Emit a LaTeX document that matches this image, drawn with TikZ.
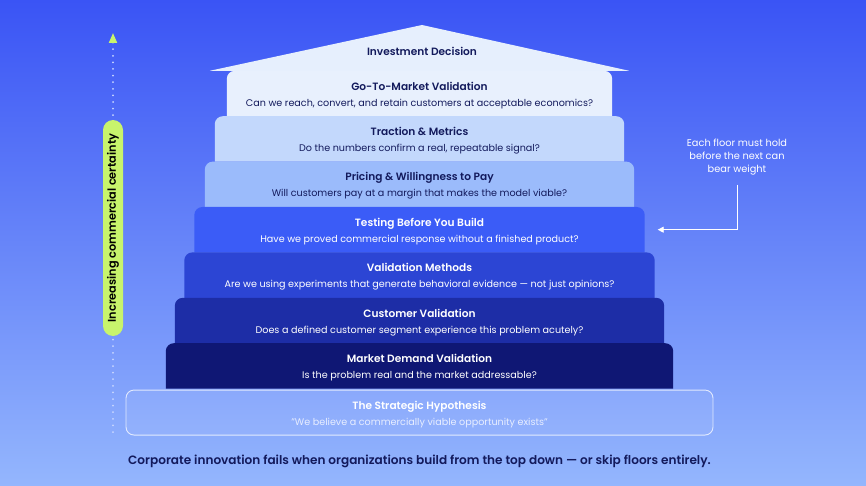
\documentclass[tikz,border=0pt]{standalone}
\usepackage{fontspec}
\setmainfont{Poppins}[BoldFont={Poppins SemiBold}]
\usepackage{tikz}
\usetikzlibrary{positioning,arrows.meta,backgrounds}

\definecolor{bgtop}{HTML}{3A54F5}
\definecolor{bgbottom}{HTML}{94B6FD}
\definecolor{navy}{HTML}{131A5C}
\definecolor{roof}{HTML}{E6EFFD}
\definecolor{floorA}{HTML}{E8F0FD}
\definecolor{floorB}{HTML}{C3D8FC}
\definecolor{floorC}{HTML}{9BBBFB}
\definecolor{floorD}{HTML}{3B5CF7}
\definecolor{floorE}{HTML}{2C45D4}
\definecolor{floorF}{HTML}{1D2DA6}
\definecolor{floorG}{HTML}{0F1774}
\definecolor{lime}{HTML}{C8F46C}
\definecolor{dotcol}{HTML}{C9D7FF}
\definecolor{hypq}{HTML}{E8EEFF}

\newcommand{\floortext}[2]{{\bfseries\fontsize{10.6}{16}\selectfont\rule{0pt}{11.8pt}#1}\\#2}

\begin{document}
\begin{tikzpicture}[x=1pt,y=-1pt,node distance=0pt,
    floor/.style={minimum height=45pt,inner sep=0pt,align=center,
                  font=\fontsize{9.6}{16}\selectfont},
    darkfloor/.style={floor,text=navy},
    lightfloor/.style={floor,text=white}]
  \useasboundingbox (0,0) rectangle (866,486);

  \node (decision) at (422,51) {\bfseries\fontsize{10.6}{14}\selectfont\color{navy}Investment Decision};
  \node[darkfloor,minimum width=385pt] (gtm) at (419.5,93.5)
    {\floortext{Go-To-Market Validation}{Can we reach, convert, and retain customers at acceptable economics?}};
  \node[darkfloor,minimum width=409pt,below=of gtm] (traction)
    {\floortext{Traction \& Metrics}{Do the numbers confirm a real, repeatable signal?}};
  \node[darkfloor,minimum width=429pt,below=of traction] (pricing)
    {\floortext{Pricing \& Willingness to Pay}{Will customers pay at a margin that makes the model viable?}};
  \node[lightfloor,minimum width=450pt,below=of pricing] (testing)
    {\floortext{Testing Before You Build}{Have we proved commercial response without a finished product?}};
  \node[lightfloor,minimum width=470pt,below=of testing] (methods)
    {\floortext{Validation Methods}{Are we using experiments that generate behavioral evidence — not just opinions?}};
  \node[lightfloor,minimum width=489pt,below=of methods] (customer)
    {\floortext{Customer Validation}{Does a defined customer segment experience this problem acutely?}};
  \node[lightfloor,minimum width=507pt,below=of customer] (demand)
    {\floortext{Market Demand Validation}{Is the problem real and the market addressable?}};
  \node[lightfloor,minimum width=587pt,below=1pt of demand,draw=white,draw opacity=.75,
        line width=.9pt,fill=white,fill opacity=.07,text opacity=1,rounded corners=8pt] (hypothesis)
    {\floortext{The Strategic Hypothesis}{\color{hypq}"We believe a commercially viable opportunity exists"}};

  \begin{scope}[on background layer]
    \shade[top color=bgtop,bottom color=bgbottom] (0,0) rectangle (866,486);
    \fill[roof] ([xshift=-17pt]gtm.north west) -- (422,25) -- ([xshift=17pt]gtm.north east) -- cycle;
    \foreach \f/\c in {gtm/floorA,traction/floorB,pricing/floorC,testing/floorD,
                       methods/floorE,customer/floorF,demand/floorG}
      \fill[\c] (\f.south west) {[rounded corners=8pt] -- (\f.north west) -- (\f.north east)}
                -- (\f.south east) -- cycle;
  \end{scope}

  \coordinate (low) at (113,432);
  \coordinate (high) at (113,33);
  \draw[dotcol,line width=2pt,line cap=round,dash pattern=on 0pt off 6.6pt,
        -{Triangle[length=10pt,width=8pt,color=lime,fill=lime]}] (low) -- (high);
  \node[fill=lime,rounded corners=10pt,minimum width=216pt,minimum height=20pt,inner sep=0pt,
        rotate=90,font=\bfseries\fontsize{11.3}{12}\selectfont] (certainty) at (113,228)
    {Increasing commercial certainty};

  \node[text=white,align=center,font=\fontsize{9.8}{13}\selectfont] (note) at (737,157)
    {Each floor must hold\\before the next can\\bear weight};
  \draw[white,line width=.9pt,-{Triangle[length=6pt,width=6pt]}]
    ([yshift=-6pt]note.south) |- ([xshift=13pt]testing.east);

  \node[text=navy,font=\bfseries\fontsize{12.1}{15}\selectfont,below=16pt of hypothesis] (caption)
    {Corporate innovation fails when organizations build from the top down — or skip floors entirely.};
\end{tikzpicture}
\end{document}
